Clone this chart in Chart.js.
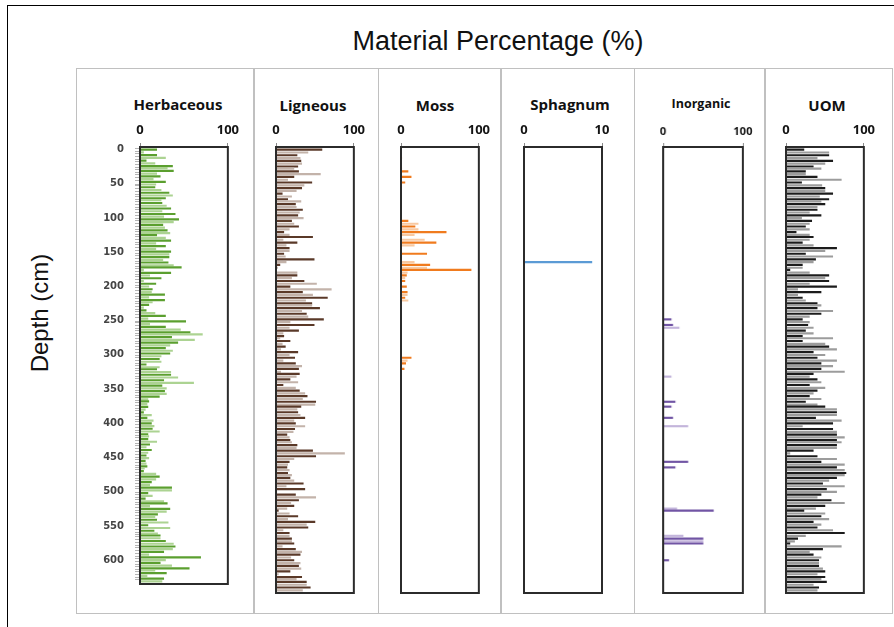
<!DOCTYPE html>
<html>
<head>
<meta charset="utf-8">
<script src="https://cdn.jsdelivr.net/npm/chart.js@4.4.1/dist/chart.umd.min.js"></script>
<style>
  html, body { margin: 0; padding: 0; background: #fff; }
  #stage { position: relative; width: 894px; height: 627px; overflow: hidden; background: #fff; }
  .abs { position: absolute; }
  .ptitle { position: absolute; transform: translate(-50%, -50%); font-family: "Open Sans", sans-serif; font-weight: 700; font-size: 15px; color: #111; white-space: nowrap; line-height: 1; }
  canvas { position: absolute; }
</style>
</head>
<body>
<div id="stage">
  <!-- outer frame -->
  <div class="abs" style="left:7px;top:5px;width:900px;height:640px;border-left:1.5px solid #000;border-top:1.5px solid #000;"></div>
  <!-- column frame -->
  <div class="abs" style="left:76px;top:68px;width:817px;height:546px;border:1.5px solid #c0c0c0;box-sizing:border-box;"></div>
  <div class="abs" style="left:253px;top:68px;width:1.5px;height:546px;background:#c0c0c0;"></div>
  <div class="abs" style="left:377.5px;top:68px;width:1.5px;height:546px;background:#c0c0c0;"></div>
  <div class="abs" style="left:500px;top:68px;width:1.5px;height:546px;background:#c0c0c0;"></div>
  <div class="abs" style="left:633.5px;top:68px;width:1.5px;height:546px;background:#c0c0c0;"></div>
  <div class="abs" style="left:764px;top:68px;width:1.5px;height:546px;background:#c0c0c0;"></div>

  <div class="abs" style="left:498px;top:28px;transform:translateX(-50%);font-family:'Liberation Sans',Arial,sans-serif;font-size:27px;line-height:27px;color:#111;white-space:nowrap;">Material Percentage (%)</div>
  <div class="abs" style="left:40px;top:313px;transform:translate(-50%,-50%) rotate(-90deg);font-family:'Liberation Sans',Arial,sans-serif;font-size:24px;line-height:24px;color:#111;white-space:nowrap;">Depth (cm)</div>

  <div class="ptitle" style="left:178px;top:104px;">Herbaceous</div>
  <div class="ptitle" style="left:313px;top:105px;">Ligneous</div>
  <div class="ptitle" style="left:435px;top:105px;">Moss</div>
  <div class="ptitle" style="left:570px;top:104px;">Sphagnum</div>
  <div class="ptitle" style="left:701px;top:104px;font-size:12.5px;font-weight:700;">Inorganic</div>
  <div class="ptitle" style="left:827px;top:105px;">UOM</div>
</div>

<script>
// Sample depths (cm)
const DEPTHS = [0,4,8,12,16,20,24,27,31,35,
  39,43,47,51,55,59,63,67,71,74,
  78,82,86,90,94,98,102,106,110,114,
  118,122,125,129,133,137,141,145,149,153,
  157,161,165,169,172,176,180,184,188,192,
  196,200,204,208,212,216,220,223,227,231,
  235,239,243,247,251,255,259,263,267,270,
  274,278,282,286,290,294,298,302,306,310,
  314,318,321,325,329,333,337,341,345,349,
  353,357,361,365,368,372,376,380,384,388,
  392,396,400,404,408,412,416,419,423,427,
  431,435,439,443,447,451,455,459,463,466,
  470,474,478,482,486,490,494,498,502,506,
  510,514,517,521,525,529,533,537,541,545,
  549,553,557,561,564,568,572,576,580,584,
  588,592,596,600,604,608,612,615,619,623,
  627,631];

// Depth axis labels
const DEPTH_LABELS = [0,50,100,150,200,250,300,350,400,450,500,550,600];

// Material percentages per sample
const HERBACEOUS = [19,4,19,29,7,17,37,31,38,19,
  23,15,29,18,17,24,33,37,29,24,
  25,30,35,25,40,27,44,38,26,28,
  31,34,19,29,35,18,29,18,35,33,
  33,26,32,38,47,4,35,11,24,4,
  18,10,14,13,28,10,28,14,10,4,
  7,17,29,9,52,11,29,46,57,71,
  36,62,43,34,29,37,34,24,22,24,
  7,22,19,35,35,43,27,61,25,30,
  28,30,22,9,10,8,9,6,4,13,
  8,15,13,16,14,22,9,10,9,19,
  11,7,13,9,7,10,6,7,8,5,
  4,18,22,18,13,11,36,36,9,14,
  6,27,31,11,34,30,20,17,19,32,
  9,34,16,20,23,23,29,38,40,37,
  27,10,69,29,23,36,56,17,30,8,
  27,25];

const LIGNEOUS = [59,41,27,31,32,33,28,23,29,57,
  23,15,46,36,33,26,8,20,15,32,
  25,26,34,30,28,35,20,23,29,17,
  10,17,47,9,27,13,17,17,10,12,
  49,13,5,2,0,27,27,20,36,52,
  18,71,34,47,66,38,46,46,56,33,
  39,41,61,18,49,17,29,9,10,5,
  18,8,12,6,28,17,24,9,25,33,
  29,6,30,26,18,28,9,25,30,37,
  40,34,51,50,32,27,28,31,37,23,
  25,37,24,22,14,17,18,20,27,26,
  47,88,51,23,17,15,14,17,15,20,
  18,23,35,13,37,1,25,51,29,19,
  23,14,3,17,28,15,50,39,41,9,
  17,17,20,20,23,8,25,33,31,19,
  23,31,29,32,18,3,33,26,39,39,
  44,34];

const MOSS = [0,0,0,1,0,0,0,1,9,0,
  13,0,5,0,0,0,0,0,0,0,
  0,0,0,0,0,0,9,22,18,22,
  58,17,0,30,45,17,0,0,33,0,
  0,17,37,33,90,8,7,5,5,0,
  7,0,8,8,5,9,0,0,0,0,
  0,0,0,0,0,0,0,0,0,0,
  0,0,0,0,0,0,13,8,6,0,
  4,0,0,0,0,0,0,0,0,0,
  0,0,0,0,0,0,0,0,0,0,
  0,0,0,0,0,0,0,0,0,0,
  0,0,0,0,0,0,0,0,0,0,
  0,0,0,0,0,0,0,0,0,0,
  0,0,0,0,0,0,0,0,0,0,
  0,0,0,0,0,0,0,0,0,0,
  0,0,0,0,0,0,0,0,0,0,
  0,0];

// Sphagnum was found at a single depth
const SPHAGNUM_DEPTHS = [161];
const SPHAGNUM = [8.7];

const INORGANIC = [0,0,0,0,0,0,0,0,0,0,
  0,0,0,0,0,0,0,0,0,0,
  0,0,0,0,0,0,0,0,0,0,
  0,0,0,0,0,0,0,0,0,0,
  0,0,0,0,0,0,0,0,0,0,
  0,0,0,0,0,0,0,0,0,0,
  0,0,10,0,12,20,0,0,0,0,
  0,0,0,0,0,0,0,0,0,0,
  0,0,0,10,0,0,0,0,0,0,
  0,0,15,0,10,0,0,0,12,0,
  0,31,0,0,0,0,0,0,0,0,
  0,0,0,0,31,0,15,0,0,0,
  0,0,0,0,0,0,0,0,0,0,
  0,17,63,0,0,0,0,0,0,0,
  0,25,50,50,50,0,0,0,0,0,
  7,0,0,0,0,0,0,0,0,0,
  0,0];

const UOM = [23,55,55,40,60,50,35,45,25,25,
  40,71,20,46,50,50,60,43,55,45,
  50,40,40,30,45,20,33,30,25,30,
  13,30,35,30,21,35,65,50,25,60,
  38,35,21,21,5,30,55,50,55,30,
  65,15,45,15,21,25,40,45,40,60,
  45,30,21,30,28,35,25,35,21,60,
  21,50,55,65,35,50,40,65,45,60,
  45,75,35,30,40,45,30,50,40,35,
  30,45,25,40,50,65,65,65,38,71,
  60,21,60,65,65,75,65,71,65,65,
  35,5,40,65,45,75,65,75,77,75,
  65,55,47,75,52,65,45,40,58,75,
  50,38,23,50,45,55,35,45,40,60,
  75,25,15,11,5,71,47,30,35,45,
  42,42,42,47,50,40,50,45,52,35,
  42,40];

// Layout of the plot boxes (page pixels)
const BOX_BOTTOM = 593, CANVAS_TOP = 115, X_AXIS_H = 32, PAD_BOTTOM = 8;
const DEPTH_MIN = -2, DEPTH_MAX = 633;

const boxFrame = {
  id: 'boxFrame',
  afterDraw(chart) {
    const a = chart.chartArea, c = chart.ctx;
    c.save();
    c.strokeStyle = '#2b2b2b';
    c.lineWidth = 2;
    c.strokeRect(a.left, a.top, a.right - a.left, a.bottom - a.top);
    c.restore();
  }
};

function makePanel(cfg) {
  const padLeft = cfg.depthAxis ? 45 : 14;
  const padRight = 16;
  const w = (cfg.right - cfg.left) + padLeft + padRight;
  const h = (BOX_BOTTOM - CANVAS_TOP) + PAD_BOTTOM;
  const cv = document.createElement('canvas');
  cv.width = w; cv.height = h;
  cv.style.left = (cfg.left - padLeft) + 'px';
  cv.style.top = CANVAS_TOP + 'px';
  cv.style.width = w + 'px'; cv.style.height = h + 'px';
  document.getElementById('stage').appendChild(cv);

  const points = cfg.depths.map((d, i) => ({ x: cfg.values[i], y: d }));
  const colors = cfg.values.map((v, i) => (cfg.light && i % 2 === 1) ? cfg.light : cfg.dark);

  const allTicks = Array.from(new Set([...DEPTH_LABELS, ...DEPTHS])).sort((a, b) => a - b);
  const showDepth = !!cfg.depthAxis;

  new Chart(cv, {
    type: 'bar',
    data: {
      datasets: [{
        data: points,
        backgroundColor: colors,
        borderWidth: 0,
        barThickness: cfg.thickness || 1.5
      }]
    },
    options: {
      indexAxis: 'y',
      responsive: false,
      animation: false,
      events: [],
      layout: { padding: { left: 0, right: padRight, top: 0, bottom: PAD_BOTTOM } },
      plugins: { legend: { display: false }, tooltip: { enabled: false } },
      scales: {
        x: {
          type: 'linear',
          position: 'top',
          min: 0,
          max: cfg.max,
          afterBuildTicks: s => { s.ticks = [{ value: 0 }, { value: cfg.max }]; },
          afterFit: s => { s.height = X_AXIS_H; },
          border: { display: false },
          grid: { drawOnChartArea: false, drawTicks: true, tickLength: 4, color: '#8a8a8a', lineWidth: 1 },
          ticks: {
            autoSkip: false,
            maxRotation: 0,
            padding: cfg.tickPad || 5,
            color: '#141414',
            font: { family: 'Open Sans', weight: '700', size: cfg.tickSize || 13 }
          }
        },
        y: {
          type: 'linear',
          reverse: true,
          min: DEPTH_MIN,
          max: DEPTH_MAX,
          afterBuildTicks: s => { s.ticks = allTicks.map(v => ({ value: v })); },
          afterFit: s => { s.width = padLeft; },
          border: { display: false },
          grid: {
            display: showDepth,
            drawOnChartArea: false,
            drawTicks: true,
            tickLength: 5,
            lineWidth: 1,
            color: ctx => (ctx.tick && DEPTHS.includes(ctx.tick.value)) ? '#b4b4b4' : 'rgba(0,0,0,0)'
          },
          ticks: {
            display: showDepth,
            autoSkip: false,
            padding: 11,
            color: '#444',
            font: { family: 'DejaVu Sans', weight: 'bold', size: 10 },
            callback: v => DEPTH_LABELS.includes(v) ? String(v) : ''
          }
        }
      }
    },
    plugins: [boxFrame]
  });
}

makePanel({ left: 140, right: 228, max: 100, depths: DEPTHS, values: HERBACEOUS, dark: '#5b9f2f', light: '#acd392', depthAxis: true });
makePanel({ left: 276, right: 354, max: 100, depths: DEPTHS, values: LIGNEOUS, dark: '#5a3928', light: '#c3b3aa' });
makePanel({ left: 401, right: 479, max: 100, depths: DEPTHS, values: MOSS, dark: '#f07b1e', light: '#f8c9a2' });
makePanel({ left: 524, right: 602, max: 10, depths: SPHAGNUM_DEPTHS, values: SPHAGNUM, dark: '#5b9bd5', thickness: 1.4 });
makePanel({ left: 663, right: 742.5, max: 100, depths: DEPTHS, values: INORGANIC, dark: '#7155a4', light: '#c3b5db', tickSize: 11 });
makePanel({ left: 786, right: 864, max: 100, depths: DEPTHS, values: UOM, dark: '#1c1c1c', light: '#9c9c9c' });
</script>
</body>
</html>
